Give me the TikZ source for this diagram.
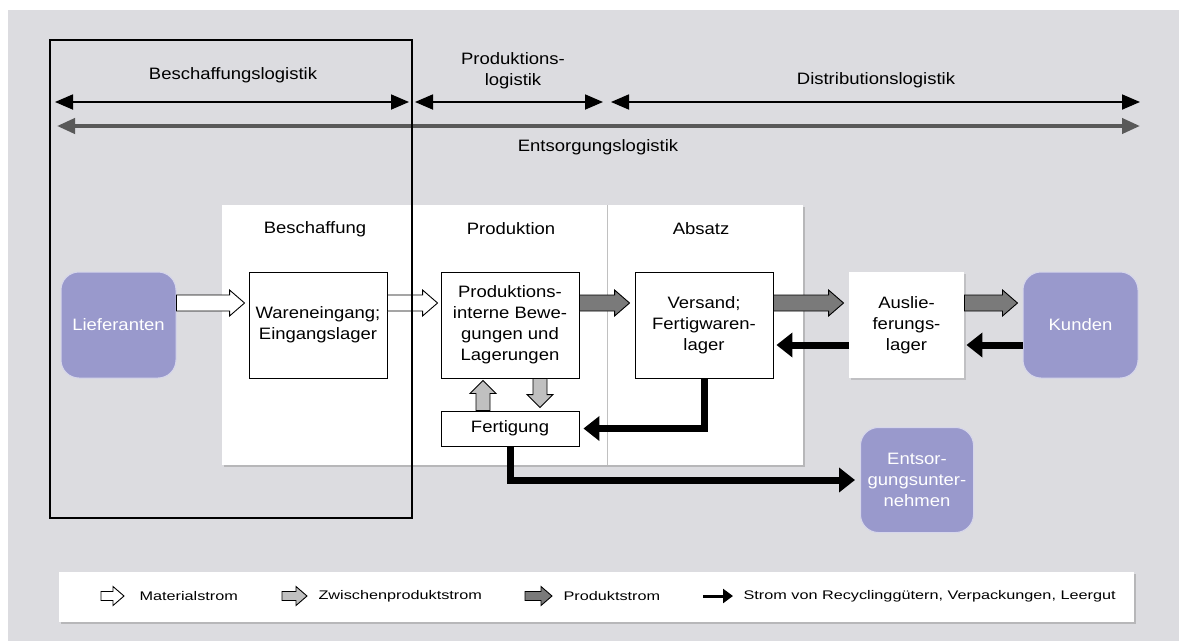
\documentclass[tikz,border=0pt]{standalone}
\usepackage{fontspec}
\setmainfont{Liberation Sans}[FakeStretch=1.12]
\newfontfamily\legendfont{Liberation Sans}[FakeStretch=1.3]
\usetikzlibrary{arrows.meta,calc,shadows}

\definecolor{lav}{HTML}{9999CC}
\definecolor{bggray}{HTML}{DCDCE0}
\definecolor{midgray}{HTML}{C0C0C0}
\definecolor{darkgray}{HTML}{7A7A7A}

\tikzset{
  shaftw/.store in=\shaftw, shaftw=8pt,
  headw/.store in=\headw, headw=13pt,
  headl/.store in=\headl, headl=15pt,
  blockarrow/.style={draw=black, line width=0.9pt, line join=miter,
    to path={let \p1=(\tikztostart), \p2=(\tikztotarget),
      \n1={veclen(\x2-\x1,\y2-\y1)}, \n2={(\x2-\x1)/\n1}, \n3={(\y2-\y1)/\n1} in
      ({\x1-\shaftw*\n3},{\y1+\shaftw*\n2})
      -- ({\x2-\headl*\n2-\shaftw*\n3},{\y2-\headl*\n3+\shaftw*\n2})
      -- ({\x2-\headl*\n2-\headw*\n3},{\y2-\headl*\n3+\headw*\n2})
      -- (\p2)
      -- ({\x2-\headl*\n2+\headw*\n3},{\y2-\headl*\n3-\headw*\n2})
      -- ({\x2-\headl*\n2+\shaftw*\n3},{\y2-\headl*\n3-\shaftw*\n2})
      -- ({\x1+\shaftw*\n3},{\y1-\shaftw*\n2}) -- cycle}},
  procbox/.style={draw, line width=0.9pt, fill=white, minimum width=138pt,
    minimum height=106pt, align=center, inner sep=2pt},
  party/.style={rounded corners=18pt, fill=lav, draw=white!60!lav, line width=1pt,
    text=white, align=center, minimum width=115pt, minimum height=106pt, inner sep=2pt},
  backflow/.style={line width=7pt, line join=miter, -{Triangle[length=16pt,width=24pt]}},
  spanarrow/.style={line width=1.8pt, {Triangle[length=18pt,width=15pt]}-{Triangle[length=18pt,width=15pt]}},
  legendtext/.style={anchor=west, font=\legendfont\fontsize{12.5}{15}\selectfont},
}

\begin{document}
\begin{tikzpicture}[x=1pt, y=-1pt, font=\fontsize{16.5}{21}\selectfont]
    \useasboundingbox (0,0) rectangle (1179,641);
    \fill[bggray] (8,10) rectangle (1179,641);

    % white panel with the three functions
    \fill[white, drop shadow={shadow xshift=2pt, shadow yshift=-2pt, opacity=0.4}] (222,205) rectangle (803,465);
    \draw[midgray, line width=1pt] (607,205) -- (607,465);

    % logistics spans
    \node (beschlog) at (233,75) {Beschaffungslogistik};
    \node[align=center] (prodlog) at (513,71) {Produktions-\\logistik};
    \node (distlog) at (876,80) {Distributionslogistik};
    \node (entslog) at (598,147) {Entsorgungslogistik};
    \coordinate (b1) at (55,102);
    \coordinate (b2) at (409,102);
    \coordinate (p1) at (415,102);
    \coordinate (p2) at (603,102);
    \coordinate (d1) at (611,102);
    \coordinate (d2) at (1140,102);
    \coordinate (e1) at (57,126);
    \coordinate (e2) at (1140,126);
    \draw[spanarrow] (b1) -- (b2);
    \draw[spanarrow] (p1) -- (p2);
    \draw[spanarrow] (d1) -- (d2);
    \draw[spanarrow, line width=4pt, black!65] (e1) -- (e2);

    % headers
    \node (beschaffung) at (315,229) {Beschaffung};
    \node (produktion) at (511,229) {Produktion};
    \node (absatz) at (701,229) {Absatz};

    % nodes
    \node[party] (lieferanten) at (118.5,325) {Lieferanten};
    \node[procbox] (wareneingang) at (318,325) {Wareneingang;\\Eingangslager};
    \node[procbox] (intern) at (510,325) {Produktions-\\interne Bewe-\\gungen und\\Lagerungen};
    \node[procbox, minimum height=35pt] (fertigung) at (510,428.5) {Fertigung};
    \node[procbox] (versand) at (704,325) {Versand;\\Fertigwaren-\\lager};
    \node[procbox, draw=none, minimum width=115pt, drop shadow={shadow xshift=2pt, shadow yshift=-2pt, opacity=0.3}] (auslieferung) at (906.5,325) {Auslie-\\ferungs-\\lager};
    \node[party] (kunden) at (1080.5,325) {Kunden};
    \node[party, minimum width=113pt, minimum height=105pt] (entsorger) at (917,480) {Entsor-\\gungsunter-\\nehmen};

    % flows
    \draw[blockarrow, fill=white] ([yshift=22pt]lieferanten.east) to ([xshift=-4pt, yshift=22pt]wareneingang.west);
    \draw[blockarrow, fill=white] ([yshift=22pt]wareneingang.east) to ([xshift=-3pt, yshift=22pt]intern.west);
    \draw[blockarrow, fill=darkgray] ([yshift=22pt]intern.east) to ([xshift=-5pt, yshift=22pt]versand.west);
    \draw[blockarrow, fill=darkgray] ([yshift=22pt]versand.east) to ([xshift=-5pt, yshift=22pt]auslieferung.west);
    \draw[blockarrow, fill=darkgray] ([yshift=22pt]auslieferung.east) to ([xshift=-5pt, yshift=22pt]kunden.west);
    \draw[blockarrow, fill=midgray, shaftw=7pt, headl=13pt] ([xshift=-27pt]fertigung.north) to ([xshift=-27pt, yshift=-2pt]intern.south);
    \draw[blockarrow, fill=midgray, shaftw=7pt, headl=13pt] ([xshift=30pt]intern.south) to ([xshift=30pt, yshift=3pt]fertigung.north);
    \draw[backflow] ([yshift=-20pt]kunden.west) -- ([xshift=2pt, yshift=-20pt]auslieferung.east);
    \draw[backflow] ([yshift=-20pt]auslieferung.west) -- ([xshift=3pt, yshift=-20pt]versand.east);
    \draw[backflow] (versand.south) |- ([xshift=4pt]fertigung.east);
    \draw[backflow] (fertigung.south) |- ([xshift=-5pt]entsorger.west);

    % frame of the procurement side
    \draw[line width=1.3pt] (50,40) rectangle (412,518);

    % legend
    \fill[white, drop shadow={shadow xshift=2pt, shadow yshift=-2pt, opacity=0.4}] (59,572) rectangle (1134,622);
    \coordinate (m1) at (101,596);
    \coordinate (m2) at (124,596);
    \coordinate (z1) at (282,596);
    \coordinate (z2) at (307,596);
    \coordinate (q1) at (525,596);
    \coordinate (q2) at (552,596);
    \coordinate (r1) at (703,596);
    \coordinate (r2) at (733,596);
    \draw[blockarrow, fill=white, shaftw=4.5pt, headw=9.5pt, headl=11pt] (m1) to (m2);
    \draw[blockarrow, fill=midgray, shaftw=4.5pt, headw=9.5pt, headl=11pt] (z1) to (z2);
    \draw[blockarrow, fill=darkgray, shaftw=4.5pt, headw=9.5pt, headl=11pt] (q1) to (q2);
    \draw[line width=3pt, -{Triangle[length=10pt,width=14pt]}] (r1) -- (r2);
    \node[legendtext] (materialstrom) at (136,596) {Materialstrom};
    \node[legendtext] (zwischenstrom) at (315,596) {Zwischenproduktstrom};
    \node[legendtext] (produktstrom) at (560,596) {Produktstrom};
    \node[legendtext] (recyclingstrom) at (740,596) {Strom von Recyclinggütern, Verpackungen, Leergut};
\end{tikzpicture}
\end{document}
